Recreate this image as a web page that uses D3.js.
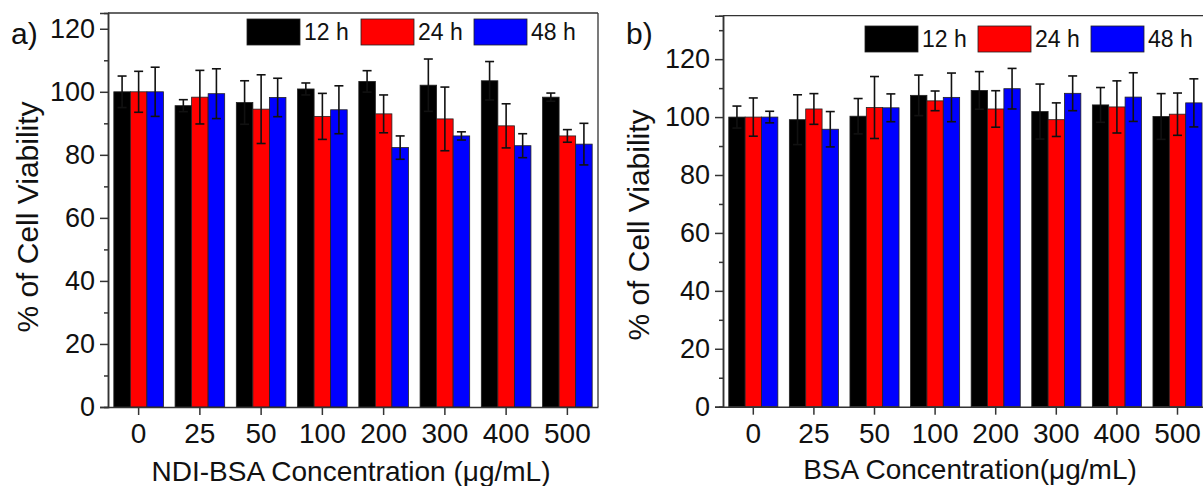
<!DOCTYPE html>
<html><head><meta charset="utf-8">
<script src="https://cdn.jsdelivr.net/npm/d3@7"></script>
<style>body{margin:0;background:#fff}svg{display:block}text{font-family:Arial,"Liberation Sans",sans-serif;fill:#111}</style>
</head><body>
<svg id="c" width="1203" height="486"></svg>
<script>
const categories = ["0","25","50","100","200","300","400","500"];
const seriesNames = ["12 h","24 h","48 h"];
const seriesColors = ["#000000","#ff0000","#0000ff"];

// Panel a: NDI-BSA
const a12 = [100, 95.6, 96.6, 100.9, 103.3, 102.1, 103.5, 98.3];
const a12err = [5.0, 1.9, 6.9, 1.9, 3.4, 8.3, 6.1, 1.3];
const a24 = [100, 98.3, 94.5, 92.2, 93.0, 91.4, 89.2, 86.0];
const a24err = [6.5, 8.5, 10.9, 7.3, 6.0, 10.1, 7.0, 2.0];
const a48 = [100, 99.4, 98.2, 94.3, 82.3, 86.0, 82.9, 83.4];
const a48err = [7.8, 7.9, 6.1, 7.6, 3.7, 1.3, 3.8, 6.6];

// Panel b: BSA
const b12 = [100, 99.1, 100.3, 107.5, 109.2, 101.9, 104.2, 100.2];
const b12err = [3.8, 8.6, 6.1, 7.0, 6.5, 9.5, 6.0, 7.9];
const b24 = [100, 102.8, 103.3, 105.6, 102.8, 99.1, 103.5, 101.0];
const b24err = [6.6, 5.3, 10.7, 3.4, 6.3, 5.8, 9.0, 7.3];
const b48 = [100, 95.8, 103.2, 106.8, 109.8, 108.2, 106.9, 104.9];
const b48err = [2.0, 6.1, 4.8, 8.4, 7.0, 6.0, 8.4, 8.3];

const yMajorTicks = [0,20,40,60,80,100,120];

const svg = d3.select("#c");
const FONT = "Arial, 'Liberation Sans', sans-serif";

function panel(cfg){
  const g = svg.append("g");
  const x = d3.scaleBand().domain(categories).range([cfg.left, cfg.right]).paddingInner(0.19).paddingOuter(0.095);
  const xs = d3.scaleBand().domain(seriesNames).range([0, x.bandwidth()]);
  const y = d3.scaleLinear().domain(cfg.yDomain).range([cfg.bottom, cfg.top]);

  const series = seriesNames.map((name,i)=>({name, color: seriesColors[i], vals: cfg.vals[i], errs: cfg.errs[i]}));

  series.forEach(s=>{
    g.append("g").selectAll("rect").data(categories).join("rect")
      .attr("x", c=>x(c)+xs(s.name))
      .attr("y", (c,j)=>y(s.vals[j]))
      .attr("width", xs.bandwidth())
      .attr("height", (c,j)=>y(0)-y(s.vals[j]))
      .attr("fill", s.color)
      .attr("stroke", "#222").attr("stroke-width", 0.8);
  });
  series.forEach(s=>{
    const eg = g.append("g").attr("stroke","#111").attr("stroke-width",1.6);
    categories.forEach((c,j)=>{
      const cx = x(c)+xs(s.name)+xs.bandwidth()/2;
      const hi = y(s.vals[j]+s.errs[j]), lo = y(s.vals[j]-s.errs[j]);
      eg.append("line").attr("x1",cx).attr("x2",cx).attr("y1",hi).attr("y2",lo);
      eg.append("line").attr("x1",cx-4.5).attr("x2",cx+4.5).attr("y1",hi).attr("y2",hi);
      eg.append("line").attr("x1",cx-4.5).attr("x2",cx+4.5).attr("y1",lo).attr("y2",lo);
    });
  });

  g.append("line").attr("x1",cfg.left).attr("x2",cfg.right).attr("y1",cfg.top).attr("y2",cfg.top).attr("stroke","#333").attr("stroke-width",1.3);
  g.append("line").attr("x1",cfg.right).attr("x2",cfg.right).attr("y1",cfg.top).attr("y2",cfg.bottom).attr("stroke","#333").attr("stroke-width",1.3);

  const minor = d3.range(10, cfg.yDomain[1], 20);
  const yMinor = g.append("g").attr("transform",`translate(${cfg.left},0)`)
    .call(d3.axisLeft(y).tickValues(minor).tickSize(4).tickFormat(""));
  const yAx = g.append("g").attr("transform",`translate(${cfg.left},0)`)
    .call(d3.axisLeft(y).tickValues(yMajorTicks).tickSize(8).tickPadding(5).tickFormat(d3.format("d")));
  [yMinor,yAx].forEach(a=>{a.select(".domain").attr("stroke","#333").attr("stroke-width",1.5);
    a.selectAll(".tick line").attr("stroke","#333").attr("stroke-width",1.5);});
  yAx.selectAll(".tick text").attr("font-size",27).attr("fill","#111").style("font-family",FONT);

  const xAx = g.append("g").attr("transform",`translate(0,${cfg.bottom})`)
    .call(d3.axisBottom(x).tickSize(8).tickPadding(8).tickSizeOuter(0));
  xAx.select(".domain").attr("stroke","#333").attr("stroke-width",1.5);
  xAx.selectAll(".tick line").attr("stroke","#333").attr("stroke-width",1.5);
  xAx.selectAll(".tick text").attr("font-size",28).attr("fill","#111").style("font-family",FONT);

  g.append("text").attr("transform",`translate(${cfg.yTitleX},${cfg.yTitleY}) rotate(-90)`)
    .attr("text-anchor","middle").attr("font-size",30).text("% of Cell Viability");
  g.append("text").attr("x",cfg.xTitleX).attr("y",cfg.xTitleY).attr("text-anchor","middle")
    .attr("font-size",28).text(cfg.xTitle);
  g.append("text").attr("x",cfg.labelX).attr("y",cfg.labelY).attr("font-size",30).text(cfg.label);

  const lg = g.append("g");
  series.forEach((s,i)=>{
    lg.append("rect").attr("x",cfg.legX[i]).attr("y",cfg.legY).attr("width",53).attr("height",26)
      .attr("fill",s.color).attr("stroke","#222").attr("stroke-width",0.8);
    lg.append("text").attr("x",cfg.legX[i]+57).attr("y",cfg.legY+21).attr("font-size",23).text(s.name);
  });
}

panel({left:108,right:598,top:13,bottom:407,yDomain:[0,125],
  vals:[a12,a24,a48],errs:[a12err,a24err,a48err],
  yTitleX:38,yTitleY:217,xTitleX:351,xTitleY:481,xTitle:"NDI-BSA Concentration (\u03bcg/mL)",
  label:"a)",labelX:11,labelY:44,legX:[247,361,474],legY:19});
panel({left:723,right:1207.8,top:15.7,bottom:406.7,yDomain:[0,135],
  vals:[b12,b24,b48],errs:[b12err,b24err,b48err],
  yTitleX:649,yTitleY:225,xTitleX:970,xTitleY:479,xTitle:"BSA Concentration(\u03bcg/mL)",
  label:"b)",labelX:626,labelY:44,legX:[865,978,1091],legY:26});
</script>
</body></html>
